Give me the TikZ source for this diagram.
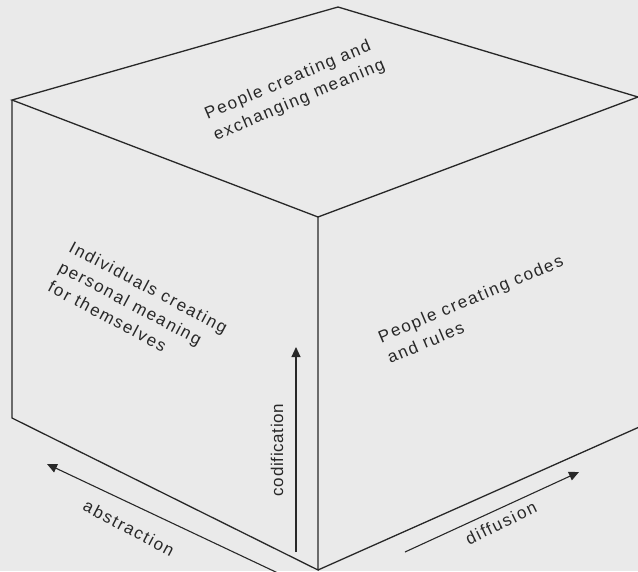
\documentclass[tikz,border=0pt]{standalone}
\usepackage{fontspec}
\setmainfont{Liberation Sans}
\newfontfamily\facefont[LetterSpace=10]{Liberation Sans}
\newfontfamily\axisfont[LetterSpace=4]{Liberation Sans}
\usetikzlibrary{arrows.meta}
\definecolor{paper}{RGB}{234,234,234}
\definecolor{ink}{RGB}{40,40,40}
\begin{document}
\begin{tikzpicture}[x=1pt,y=-1pt,
  edge/.style={draw=ink,line width=1.3pt,line join=miter},
  axis/.style={draw=ink,line width=1.1pt,-{Triangle[length=10pt,width=9pt]}},
  facetext/.style={text=ink,font=\facefont\fontsize{17}{22.5}\selectfont,align=left,inner sep=0pt},
  axislabel/.style={text=ink,font=\facefont\fontsize{17}{19}\selectfont,inner sep=0pt}]
\fill[paper] (0,0) rectangle (638,571);
\useasboundingbox (0,0) rectangle (638,571);
\clip (0,0) rectangle (638,571);

% cube corners
\coordinate (lt) at (12,100);
\coordinate (bt) at (338,7);
\coordinate (rt) at (638,97);
\coordinate (ft) at (318,217);
\coordinate (lb) at (12,418);
\coordinate (fb) at (318,570);
\coordinate (rb) at (646,424);

% cube edges
\draw[edge] (lt) -- (bt) -- (rt) -- (ft) -- cycle;
\draw[edge] (lt) -- (lb) -- (fb) -- (ft);
\draw[edge] (fb) -- (rb);

% face labels
\node[facetext,rotate=23] (top) at (295,90) {People creating and\\exchanging meaning};
\node[facetext,rotate=-28] (left) at (138,307) {Individuals creating\\personal meaning\\for themselves};
\node[facetext,rotate=23] (right) at (475,309) {People creating codes\\and rules};

% axes
\coordinate (abs0) at (280,574);
\coordinate (abs1) at (47,464);
\coordinate (cod0) at (296,552);
\coordinate (cod1) at (296,347);
\coordinate (dif0) at (405,552);
\coordinate (dif1) at (579,472);
\draw[axis] (abs0) -- (abs1);
\draw[axis] (cod0) -- (cod1);
\draw[axis] (dif0) -- (dif1);

\node[axislabel,rotate=-28] (abstraction) at (129,528) {abstraction};
\node[text=ink,font=\axisfont\fontsize{17}{20}\selectfont,inner sep=0pt,rotate=90] (codification) at (277,450) {codification};
\node[axislabel,rotate=26] (diffusion) at (501,523) {diffusion};
\end{tikzpicture}
\end{document}
